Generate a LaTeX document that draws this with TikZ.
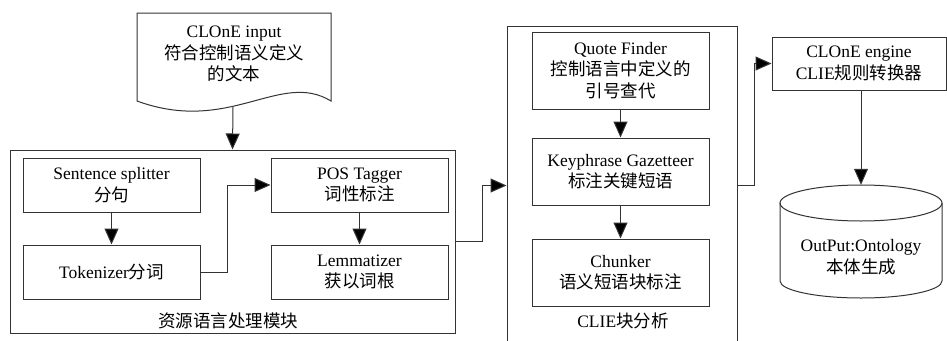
\documentclass[tikz,border=0pt]{standalone}
\usepackage{fontspec}
\setmainfont{Liberation Serif}
\newfontfamily\cjk{Noto Sans CJK SC}
\newcommand\zh[1]{{\cjk #1}}
\usetikzlibrary{arrows.meta}
\begin{document}
\begin{tikzpicture}[x=1pt,y=-1pt,
  ln/.style={line width=1pt,draw=black!80},
  box/.style={draw=black!80,line width=1pt,rectangle,inner sep=0pt,align=center,
    font=\fontsize{17.5}{21.5}\selectfont},
  txt/.style={inner sep=0pt,align=center,font=\fontsize{17.5}{21.5}\selectfont},
  arr/.style={-{Triangle[length=16pt,width=14pt,fill=black]},draw=black!80,line width=1pt}]
\useasboundingbox (0,0) rectangle (947,340);
\clip (0,0) rectangle (947,340);
\fill[white] (0,0) rectangle (947,340);

% input document
\draw[ln] (137,101) -- (137,13) -- (331,13) -- (331,101)
  .. controls (280,70) and (230,135) .. (137,101) -- cycle;
\node[txt] (doc) at (234,54) {CLOnE input\\\zh{符合控制语义定义}\\\zh{的文本}};
\coordinate (docb) at (233,107);

% module 1
\node[box,minimum width=445,minimum height=183] (m1) at (232.5,241.5) {};
\node[txt] (m1lab) at (228,321) {\zh{资源语言处理模块}};
\node[box,minimum width=177,minimum height=54] (split) at (111.5,185) {Sentence splitter\\\zh{分句}};
\node[box,minimum width=177,minimum height=54] (tok) at (111.5,272) {Tokenizer\zh{分词}};
\node[box,minimum width=177,minimum height=54] (pos) at (359.5,185) {POS Tagger\\\zh{词性标注}};
\node[box,minimum width=177,minimum height=54] (lem) at (359.5,272) {Lemmatizer\\\zh{获以词根}};

% module 2
\node[box,minimum width=230,minimum height=319] (m2) at (622,185.5) {};
\node[txt] (m2lab) at (623,321) {CLIE\zh{块分析}};
\node[box,minimum width=177,minimum height=77] (quote) at (620.5,70.5) {Quote Finder\\\zh{控制语言中定义的}\\\zh{引号查代}};
\node[box,minimum width=177,minimum height=67] (key) at (620.5,171.5) {Keyphrase Gazetteer\\\zh{标注关键短语}};
\node[box,minimum width=177,minimum height=67] (chunk) at (620.5,272.5) {Chunker\\\zh{语义短语块标注}};

% engine
\node[box,minimum width=174,minimum height=53] (eng) at (859,63.5) {CLOnE engine\\CLIE\zh{规则转换器}};

% cylinder
\draw[ln] (861,203) ellipse [x radius=81, y radius=18];
\draw[ln] (780,203) -- (780,281)
  .. controls (780,290.4) and (816.3,298) .. (861,298)
  .. controls (905.7,298) and (942,290.4) .. (942,281) -- (942,203);
\node[txt,minimum height=114,minimum width=162] (cyl) at (861,242) {};
\node[txt] (cyltxt) at (861,257) {OutPut:Ontology\\\zh{本体生成}};

% connectors
\draw[arr] (docb) -- (m1.north);
\draw[arr] (split) -- (tok);
\draw[arr] (tok.east) -- ++(27,0) |- (pos.west);
\draw[arr] (pos) -- (lem);
\draw[arr] (m1.east) -- ++(27,0) |- (m2.west);
\draw[arr] (quote) -- (key);
\draw[arr] (key) -- (chunk);
\draw[arr] (m2.east) -- ++(17,0) |- (eng.west);
\draw[arr] (eng.south -| cyl.north) -- (cyl.north);
\end{tikzpicture}
\end{document}
